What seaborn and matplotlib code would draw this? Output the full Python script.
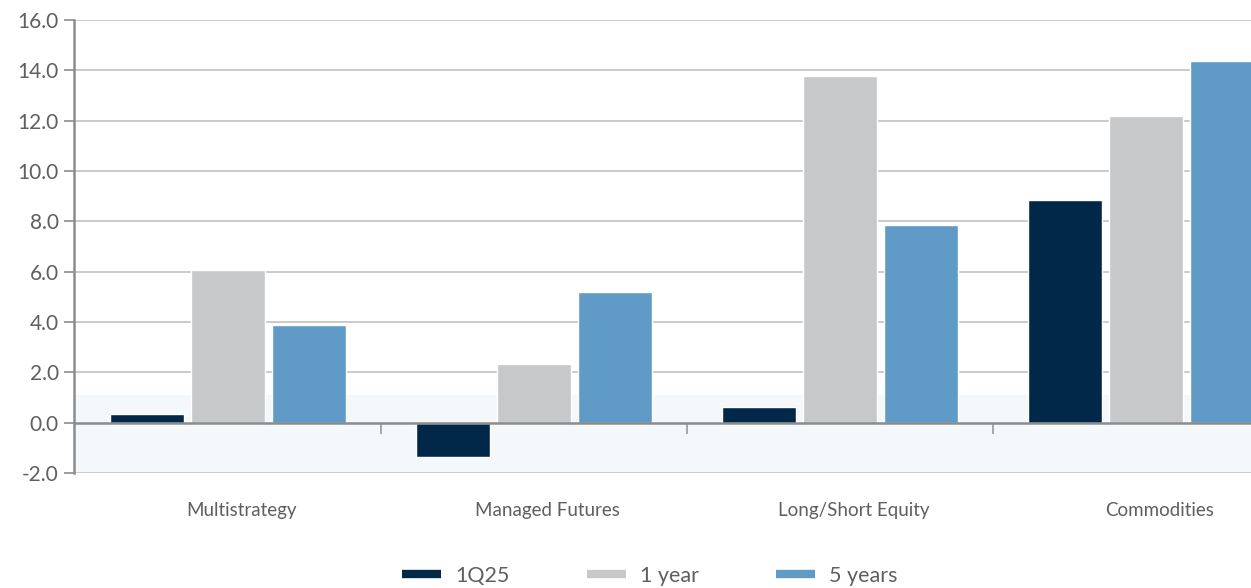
import pandas as pd
import matplotlib.pyplot as plt
from matplotlib.lines import Line2D
import seaborn as sns

categories = ['Multistrategy', 'Managed Futures', 'Long/Short Equity', 'Commodities']
series = ['1Q25', '1 year', '5 years']
q1_25 = [0.36, -1.35, 0.64, 8.86]
one_year = [6.08, 2.34, 13.79, 12.2]
five_years = [3.89, 5.2, 7.87, 14.38]
colors = ['#022849', '#c7c8ca', '#609bc7']

y_ticks = [-2, 0, 2, 4, 6, 8, 10, 12, 14, 16]


def main():
    df = pd.DataFrame({
        'category': categories * 3,
        'series': [s for s in series for _ in categories],
        'value': q1_25 + one_year + five_years,
    })

    sns.set_style('white')
    plt.rcParams['font.family'] = ['Lato', 'DejaVu Sans']
    text_color = '#5f5f5f'

    fig = plt.figure(figsize=(12.51, 5.88), dpi=100)
    ax = fig.add_axes([0.0592, 0.1956, 0.9408, 0.7704])

    # light band around zero
    ax.axhspan(-2, 1.1, color='#f4f8fb', zorder=0, lw=0)

    sns.barplot(data=df, x='category', y='value', hue='series', order=categories,
                hue_order=series, palette=colors, width=0.795, gap=0.086,
                saturation=1, ax=ax, legend=False, zorder=3)

    ax.set_ylim(-2, 16)
    ax.set_xlim(-0.502, 3.344)
    ax.set_yticks(y_ticks)
    ax.set_yticklabels([f'{v:.1f}' for v in y_ticks], fontsize=15, color=text_color)
    for v in y_ticks:
        if v != 0:
            ax.axhline(v, color='#cacaca', lw=1.4, zorder=1)
    ax.axhline(0, color='#8c8c8c', lw=1.8, zorder=4)

    # x axis ticks sit on the zero line, between categories
    for s in ['top', 'right']:
        ax.spines[s].set_visible(False)
    ax.spines['bottom'].set_position(('data', 0))
    ax.spines['bottom'].set_visible(False)
    ax.spines['left'].set_color('#8c8c8c')
    ax.spines['left'].set_linewidth(1.8)
    ax.set_xticks([0.5, 1.5, 2.5])
    ax.set_xticklabels([])
    ax.tick_params(axis='x', bottom=True, direction='out', length=8, width=1.2,
                   color='#9a9a9a', pad=0)
    ax.tick_params(axis='y', left=True, direction='out', length=7, width=1.2,
                   color='#8c8c8c', pad=4)
    ax.set_xlabel('')
    ax.set_ylabel('')

    for i, c in enumerate(categories):
        ax.text(i + 0.045, -3.5, c, ha='center', va='center', fontsize=13.5,
                color=text_color)

    handles = [Line2D([0], [0], color=c, lw=6, solid_capstyle='butt') for c in colors]
    fig.legend(handles, series, loc='center', bbox_to_anchor=(650 / 1251, 1 - 576 / 588),
               ncol=3, frameon=False, fontsize=15.5, handlelength=1.8,
               handletextpad=0.65, columnspacing=3.6, labelcolor=text_color)

    fig.savefig('out.png', dpi=100)


if __name__ == '__main__':
    main()
